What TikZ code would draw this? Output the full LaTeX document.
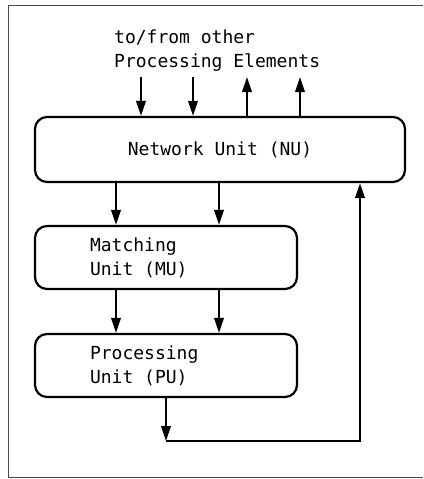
\documentclass[tikz,border=0pt]{standalone}
\usepackage{fontspec}
\setmonofont{DejaVu Sans Mono}
\usepackage{tikz}
\usetikzlibrary{arrows.meta,positioning,calc}

\begin{document}
\begin{tikzpicture}[x=1pt,y=-1pt,>={Triangle[length=15pt,width=9.5pt]},
    every node/.style={font=\ttfamily\fontsize{18}{24}\selectfont},
    unitbox/.style={draw,line width=2.2pt,rounded corners=12pt,inner sep=0pt},
    link/.style={->,line width=2.2pt}]
        \useasboundingbox (0,0) rectangle (423,479);
        % frame
        \draw[line width=1pt,black!70] (423,5) -- (8,5) -- (8,477) -- (423,477);
        % units
        \node[unitbox,minimum width=370pt,minimum height=65pt] (nu) at (220,149.5) {Network Unit (NU)};
        \node[unitbox,minimum height=63pt,text width=152pt,inner xsep=55pt,align=flush left] (mu) at (166,257.5) {Matching\\Unit (MU)};
        \node[unitbox,minimum height=63pt,text width=152pt,inner xsep=55pt,align=flush left] (pu) at (166,365.5) {Processing\\Unit (PU)};
        \node[anchor=north west,inner sep=0pt,align=left] (pe) at (114,30) {to/from other\\Processing Elements};
        % to/from other elements
        \foreach \x in {141,193}{
          \draw[link] (\x,77) -- (nu.north -| \x,0);
        }
        \foreach \x in {247,300}{
          \draw[link] (nu.north -| \x,0) -- (\x,77);
        }
        % NU -> MU -> PU
        \foreach \x in {116,219}{
          \draw[link] (nu.south -| \x,0) -- (mu.north -| \x,0);
          \draw[link] (mu.south -| \x,0) -- (pu.north -| \x,0);
        }
        % feedback
        \coordinate (turn) at (166,441);
        \draw[link] (pu.south) -- (turn);
        \draw[link] (turn) -| (nu.south -| 360,0);
      \end{tikzpicture}
\end{document}
